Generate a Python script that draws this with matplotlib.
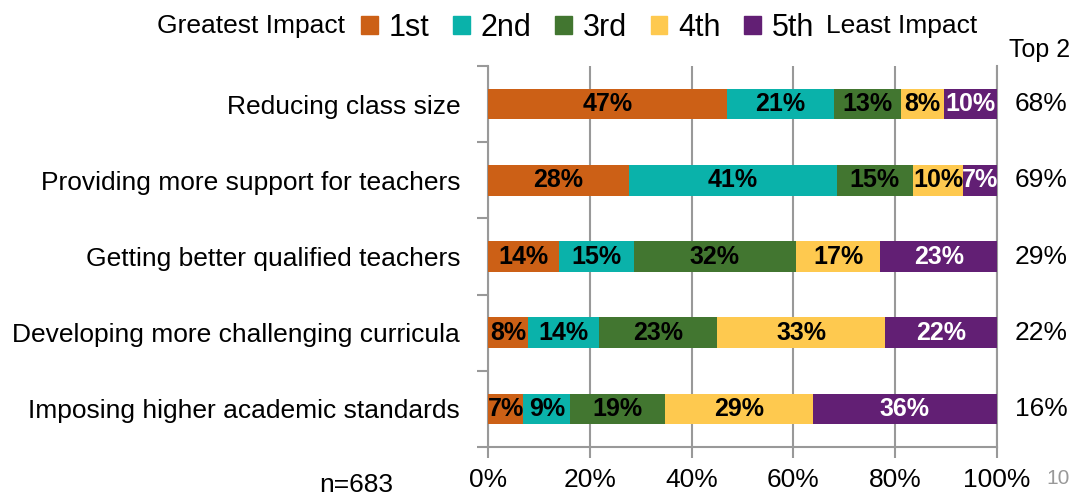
import matplotlib
matplotlib.use("Agg")
import matplotlib.pyplot as plt
import matplotlib.patches as mpatches
import numpy as np

plt.rcParams["font.family"] = ["Liberation Sans Narrow", "Liberation Sans", "DejaVu Sans"]

# -----------------------------------------------------------------------
# Data (share of respondents ranking each item, %)
# -----------------------------------------------------------------------
categories = [
    "Reducing class size",
    "Providing more support for teachers",
    "Getting better qualified teachers",
    "Developing more challenging curricula",
    "Imposing higher academic standards",
]
rank_labels = ["1st", "2nd", "3rd", "4th", "5th"]
first  = [46.9, 27.7, 14.0, 7.8, 6.9]
second = [21.1, 40.9, 14.6, 14.1, 9.3]
third  = [13.2, 14.8, 31.9, 23.1, 18.6]
fourth = [8.4, 10.0, 16.6, 33.0, 29.0]
fifth  = [10.4, 6.6, 22.9, 22.0, 36.2]
x_ticks = [0, 20, 40, 60, 80, 100]
n_resp = 683

COLORS = ["#CC6016", "#0AB2AA", "#427630", "#FEC94F", "#621F74"]
TEXT_COLORS = ["black", "black", "black", "black", "white"]
GRID = "#999999"

series = [first, second, third, fourth, fifth]
y = np.arange(len(categories))

fig = plt.figure(figsize=(10.84, 4.99), dpi=100)
ax = fig.add_axes([488 / 1084, 52 / 499, 509 / 1084, 381 / 499])

left = np.zeros(len(categories))
for vals, col, tcol in zip(series, COLORS, TEXT_COLORS):
    vals = np.array(vals)
    ax.barh(y, vals, left=left, height=0.4, color=col, zorder=3)
    for yi, (l, v) in enumerate(zip(left, vals)):
        ax.text(l + v / 2, yi, f"{round(v)}%", ha="center", va="center",
                fontsize=18, fontweight="bold", color=tcol, zorder=4)
    left += vals

ax.set_xlim(0, 100)
ax.set_ylim(len(categories) - 0.5, -0.5)
ax.set_xticks(x_ticks)
ax.set_xticklabels([f"{t}%" for t in x_ticks], fontsize=19)
ax.xaxis.grid(True, color=GRID, linewidth=1.5, zorder=0)
ax.tick_params(axis="x", length=8, width=1.5, color=GRID, pad=7)

ax.set_yticks(y)
ax.set_yticklabels(categories, fontsize=19)
ax.set_yticks(np.arange(-0.5, len(categories) - 0.4, 1.0), minor=True)
ax.tick_params(axis="y", which="major", length=0, pad=20)
ax.tick_params(axis="y", which="minor", length=8, width=1.5, color=GRID)

ax.spines["top"].set_visible(False)
for side in ["left", "bottom", "right"]:
    ax.spines[side].set_color(GRID)
    ax.spines[side].set_linewidth(1.5)

# Top 2 column
fig.text(1040 / 1084, 1 - 50 / 499, "Top 2", ha="center", va="center", fontsize=18)
for yi in y:
    top2 = round(first[yi] + second[yi])
    ax.text(1.035, yi, f"{top2}%", transform=ax.get_yaxis_transform(),
            ha="left", va="center", fontsize=19)

# Legend
handles = [mpatches.Patch(color=c, label=l) for c, l in zip(COLORS, rank_labels)]
fig.legend(handles=handles, loc="center left", bbox_to_anchor=(361 / 1084, 1 - 28 / 499),
           ncol=5, frameon=False, fontsize=22, handlelength=0.55, handleheight=0.55,
           handletextpad=0.35, columnspacing=0.78, borderaxespad=0, borderpad=0)
fig.text(345 / 1084, 1 - 26 / 499, "Greatest Impact", ha="right", va="center", fontsize=19)
fig.text(826 / 1084, 1 - 26 / 499, "Least Impact", ha="left", va="center", fontsize=19)

fig.text(356 / 1084, 1 - 485 / 499, f"n={n_resp}", ha="center", va="center", fontsize=19)
fig.text(1058 / 1084, 1 - 478 / 499, "10", ha="center", va="center", fontsize=15, color="#999999")

fig.savefig("out.png", dpi=100)
